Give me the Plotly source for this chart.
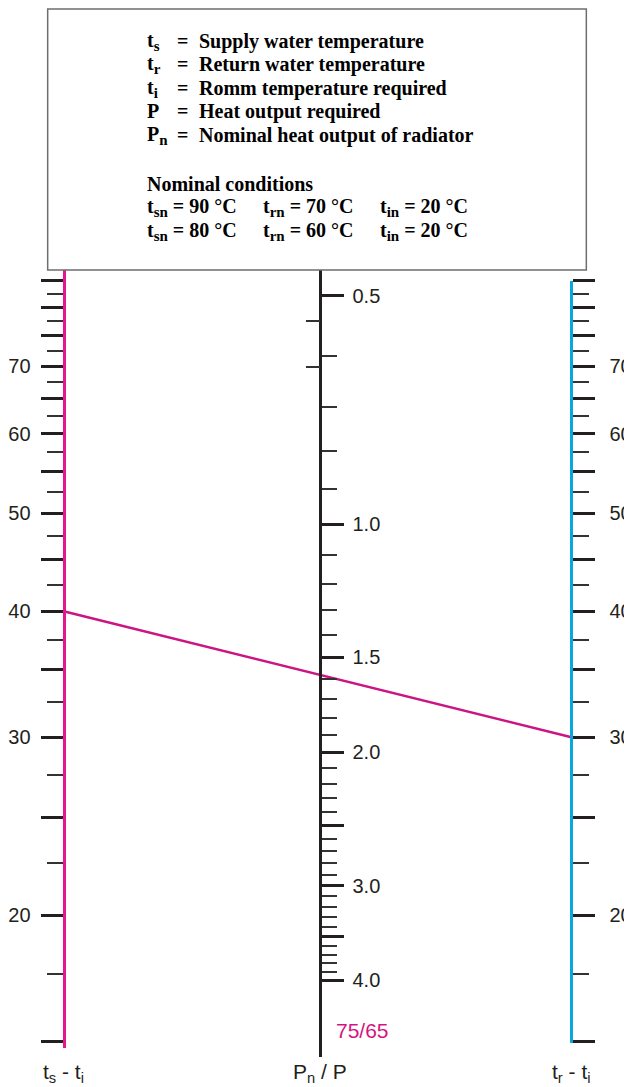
import math
import plotly.graph_objects as go

# ---------------- data ----------------
# temperature-difference scales (ts - ti, tr - ti), log scales
temp_major = [15, 20, 25, 30, 35, 40, 45, 50, 55, 60, 65, 70, 75, 80, 85]
temp_labels = ["", "20", "", "30", "", "40", "", "50", "", "60", "", "70", "", "", ""]
temp_minor = [17.5, 22.5, 27.5, 32.5, 37.5, 42.5, 47.5, 52.5, 57.5, 62.5, 67.5, 72.5, 77.5, 82.5]

# Pn / P scale
p_major = [0.5, 1.0, 1.5, 2.0, 2.5, 3.0, 3.5, 4.0]
p_labels = ["0.5", "1.0", "1.5", "2.0", "", "3.0", "", "4.0"]
p_minor = [0.6, 0.7, 0.8, 0.9, 1.1, 1.2, 1.3, 1.4, 1.6, 1.7, 1.8, 1.9,
           2.1, 2.2, 2.3, 2.4, 2.6, 2.7, 2.8, 2.9, 3.1, 3.2, 3.3, 3.4,
           3.6, 3.7, 3.8, 3.9]
p_left_marks = [0.54, 0.62]

# example reading
ts_ti_value = 40
tr_ti_value = 30

SUB = '<sub><span style="font-size:15px">{}</span></sub>'
legend_symbols = ["t" + SUB.format("s"), "t" + SUB.format("r"), "t" + SUB.format("i"),
                  "P", "P" + SUB.format("n")]
legend_texts = ["Supply water temperature", "Return water temperature",
                "Romm temperature required", "Heat output required",
                "Nominal heat output of radiator"]
nominal_rows = [
    ["t" + SUB.format("sn") + " = 90 °C", "t" + SUB.format("rn") + " = 70 °C",
     "t" + SUB.format("in") + " = 20 °C"],
    ["t" + SUB.format("sn") + " = 80 °C", "t" + SUB.format("rn") + " = 60 °C",
     "t" + SUB.format("in") + " = 20 °C"],
]

# ---------------- layout geometry ----------------
PAGE_W, PAGE_H = 632, 1087
OFF = 8                        # default body margin of the html page
W, H = PAGE_W - OFF, PAGE_H - OFF
TOP, BOT = 270, 1057           # plot area in page pixels
PH = BOT - TOP

def py(p):   # page pixel y -> paper
    return (BOT - p) / PH

def px(p):   # page pixel x -> paper
    return (p - OFF) / W

# temperature axes: 20 at y=915, 1009 px per decade
def t_log(p):
    return math.log10(20) + (915 - p) / 1009

# Pn/P axis: 1.0 at y=524, 758 px per decade, increasing downward
def p_log(p):
    return (p - 524) / 758

XL, XM, XR = px(64), px(323), px(576)

INK = "#231f20"
MAGENTA_AXIS = "#e5168b"
MAGENTA_LINE = "#cc1584"
CYAN = "#0aa6e0"
SANS = "Liberation Sans, Arial, Helvetica, sans-serif"
SERIF = "Liberation Serif, Times New Roman, serif"

fig = go.Figure()

# reading line (left scale -> right scale, both same mapping)
fig.add_trace(go.Scatter(x=[XL, XR], y=[ts_ti_value, tr_ti_value], mode="lines",
                         line=dict(color=MAGENTA_LINE, width=2.5),
                         xaxis="x", yaxis="y", hoverinfo="skip", showlegend=False))
# invisible anchors for the other axes
fig.add_trace(go.Scatter(x=[XR], y=[tr_ti_value], mode="markers", marker=dict(opacity=0),
                         xaxis="x2", yaxis="y2", hoverinfo="skip", showlegend=False))
fig.add_trace(go.Scatter(x=[XM], y=[p_major[1]], mode="markers", marker=dict(opacity=0),
                         xaxis="x3", yaxis="y3", hoverinfo="skip", showlegend=False))
fig.add_trace(go.Scatter(x=[XM], y=[p_left_marks[0]], mode="markers", marker=dict(opacity=0),
                         xaxis="x3", yaxis="y4", hoverinfo="skip", showlegend=False))

tickfont = dict(family=SANS, size=20, color=INK)

def temp_axis(side, pos, color, dom, rng, standoff):
    return dict(type="log", anchor="free", position=pos, side=side, domain=dom,
                range=rng, showgrid=False, zeroline=False,
                showline=True, linecolor=color, linewidth=3,
                ticks="outside", tickmode="array", tickvals=temp_major,
                ticktext=temp_labels, ticklen=22, tickwidth=3, tickcolor=INK,
                tickfont=tickfont, ticklabelstandoff=standoff,
                minor=dict(ticks="outside", tickmode="array", tickvals=temp_minor,
                           ticklen=16, tickwidth=1.5, tickcolor="#333333"),
                fixedrange=True)

xax = dict(range=[0, 1], domain=[0, 1], visible=False, fixedrange=True)

fig.update_layout(
    width=W, height=H,
    margin=dict(l=0, r=0, t=TOP - OFF, b=PAGE_H - BOT),
    paper_bgcolor="white", plot_bgcolor="rgba(0,0,0,0)",
    showlegend=False,
    xaxis=dict(xax, anchor="y"),
    xaxis2=dict(xax, anchor="y2"),
    xaxis3=dict(xax, anchor="y3"),
    yaxis=temp_axis("left", XL, MAGENTA_AXIS, [py(1048), 1.0],
                    [t_log(1048), t_log(TOP)], 6),
    yaxis2=temp_axis("right", XR, CYAN, [py(1043), py(281)],
                     [t_log(1043), t_log(281)], 10),
    yaxis3=dict(type="log", anchor="free", position=XM, side="right", domain=[0, 1],
                range=[p_log(BOT), p_log(TOP)], showgrid=False, zeroline=False,
                showline=True, linecolor=INK, linewidth=3,
                ticks="outside", tickmode="array", tickvals=p_major, ticktext=p_labels,
                ticklen=22, tickwidth=3, tickcolor=INK, tickfont=tickfont,
                ticklabelstandoff=4,
                minor=dict(ticks="outside", tickmode="array", tickvals=p_minor,
                           ticklen=15, tickwidth=1.5, tickcolor="#333333"),
                fixedrange=True),
    yaxis4=dict(type="log", anchor="free", position=XM, side="left", overlaying="y3",
                range=[p_log(BOT), p_log(TOP)], showgrid=False, zeroline=False,
                showline=False, ticks="outside", tickmode="array",
                tickvals=p_left_marks, ticktext=["", ""], ticklen=14, tickwidth=1.5,
                tickcolor="#333333", fixedrange=True),
)

# legend box
fig.add_shape(type="rect", xref="paper", yref="paper",
              x0=px(48), x1=px(591), y0=py(270), y1=py(9),
              line=dict(color="#6d6e71", width=1.5), fillcolor="white")

serif_font = dict(family=SERIF, size=20, color="black")
row_y = [41, 64.5, 88, 111.5, 135]
for sym, txt, yy in zip(legend_symbols, legend_texts, row_y):
    for xx, t in ((146, sym), (176, "="), (199, txt)):
        fig.add_annotation(x=px(xx), y=py(yy), xref="paper", yref="paper",
                           text="<b>" + t + "</b>", showarrow=False,
                           xanchor="left", yanchor="middle", font=serif_font)
fig.add_annotation(x=px(146), y=py(184), xref="paper", yref="paper",
                   text="<b>Nominal conditions</b>", showarrow=False,
                   xanchor="left", yanchor="middle", font=serif_font)
for row, yy in zip(nominal_rows, [207.5, 231]):
    for xx, t in zip([146, 263, 381], row):
        fig.add_annotation(x=px(xx), y=py(yy), xref="paper", yref="paper",
                           text="<b>" + t + "</b>", showarrow=False,
                           xanchor="left", yanchor="middle", font=serif_font)

# scale names at bottom
sans_font = dict(family=SANS, size=21, color=INK)
for xx, t in ((XL, "t<sub>s</sub> - t<sub>i</sub>"), (XM, "P<sub>n</sub> / P"),
              (XR, "t<sub>r</sub> - t<sub>i</sub>")):
    fig.add_annotation(x=xx, y=py(1073), xref="paper", yref="paper", text=t,
                       showarrow=False, xanchor="center", yanchor="middle", font=sans_font)

fig.add_annotation(x=px(365), y=py(1030), xref="paper", yref="paper", text="75/65",
                   showarrow=False, xanchor="center", yanchor="middle",
                   font=dict(family=SANS, size=21, color="#d6147f"))

fig.write_html("out.html")
